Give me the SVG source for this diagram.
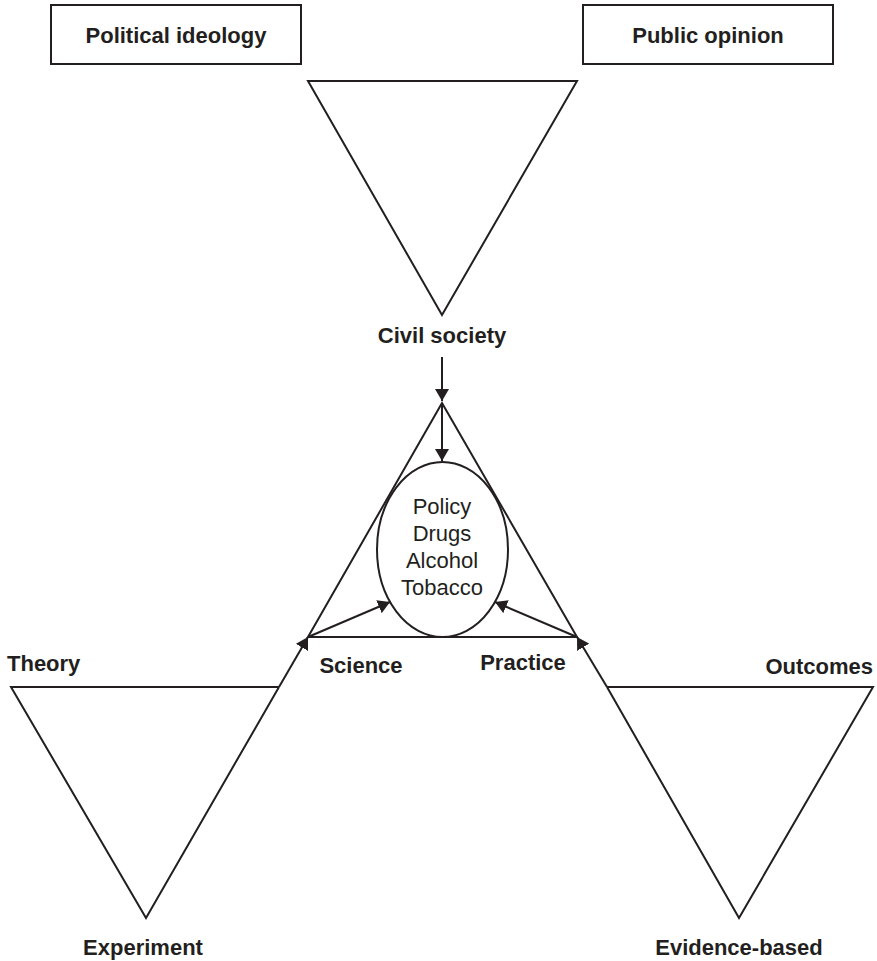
<svg xmlns="http://www.w3.org/2000/svg" width="877" height="961" viewBox="0 0 877 961">
<style>
.s{fill:none;stroke:#231f20;stroke-width:2;stroke-linejoin:miter}
.b{font-family:"Liberation Sans",Arial,sans-serif;font-weight:bold;font-size:22px;fill:#231f20}
.r{font-family:"Liberation Sans",Arial,sans-serif;font-size:22px;fill:#231f20;text-anchor:middle}
</style>
<defs>
<marker id="ah" viewBox="0 0 12 14" refX="12" refY="7" markerWidth="12" markerHeight="14" markerUnits="userSpaceOnUse" orient="auto">
<path d="M0,0 L12,7 L0,14 Z" fill="#231f20"/>
</marker>
</defs>
<rect width="877" height="961" fill="#ffffff"/>
<g id="political-ideology">
<rect class="s" x="51" y="5" width="250" height="59"/>
<text class="b" x="176" y="43" text-anchor="middle">Political ideology</text>
</g>
<g id="public-opinion">
<rect class="s" x="583" y="5" width="250" height="59"/>
<text class="b" x="708" y="43" text-anchor="middle">Public opinion</text>
</g>
<g id="top-triangle">
<polygon class="s" points="308,81 577,81 442,315"/>
<text class="b" x="442" y="343" text-anchor="middle">Civil society</text>
</g>
<g id="central-triangle">
<polygon class="s" points="442,403 308,637 577,637"/>
<text class="b" x="361" y="673" text-anchor="middle">Science</text>
<text class="b" x="523" y="670" text-anchor="middle">Practice</text>
</g>
<g id="policy">
<ellipse class="s" cx="442.5" cy="549.5" rx="65.5" ry="87.5"/>
<text class="r" x="442" y="514">Policy</text>
<text class="r" x="442" y="541">Drugs</text>
<text class="r" x="442" y="568">Alcohol</text>
<text class="r" x="442" y="595">Tobacco</text>
</g>
<g id="left-triangle">
<polyline class="s" points="279,687 11,687 146,918 279,687"/>
<text class="b" x="7" y="671">Theory</text>
<text class="b" x="143" y="955" text-anchor="middle">Experiment</text>
</g>
<g id="right-triangle">
<polyline class="s" points="607,687 873,687 739,918 607,687"/>
<text class="b" x="873" y="674" text-anchor="end">Outcomes</text>
<text class="b" x="739" y="955" text-anchor="middle">Evidence-based</text>
</g>
<g id="connectors">
<line class="s" x1="442" y1="357" x2="442" y2="401" marker-end="url(#ah)"/>
<line class="s" x1="442" y1="403" x2="442" y2="461" marker-end="url(#ah)"/>
<line class="s" x1="308" y1="637" x2="390" y2="602" marker-end="url(#ah)"/>
<line class="s" x1="577" y1="637" x2="495" y2="602" marker-end="url(#ah)"/>
<line class="s" x1="279" y1="687" x2="308" y2="637" marker-end="url(#ah)"/>
<line class="s" x1="607" y1="687" x2="577" y2="637" marker-end="url(#ah)"/>
</g>
</svg>
